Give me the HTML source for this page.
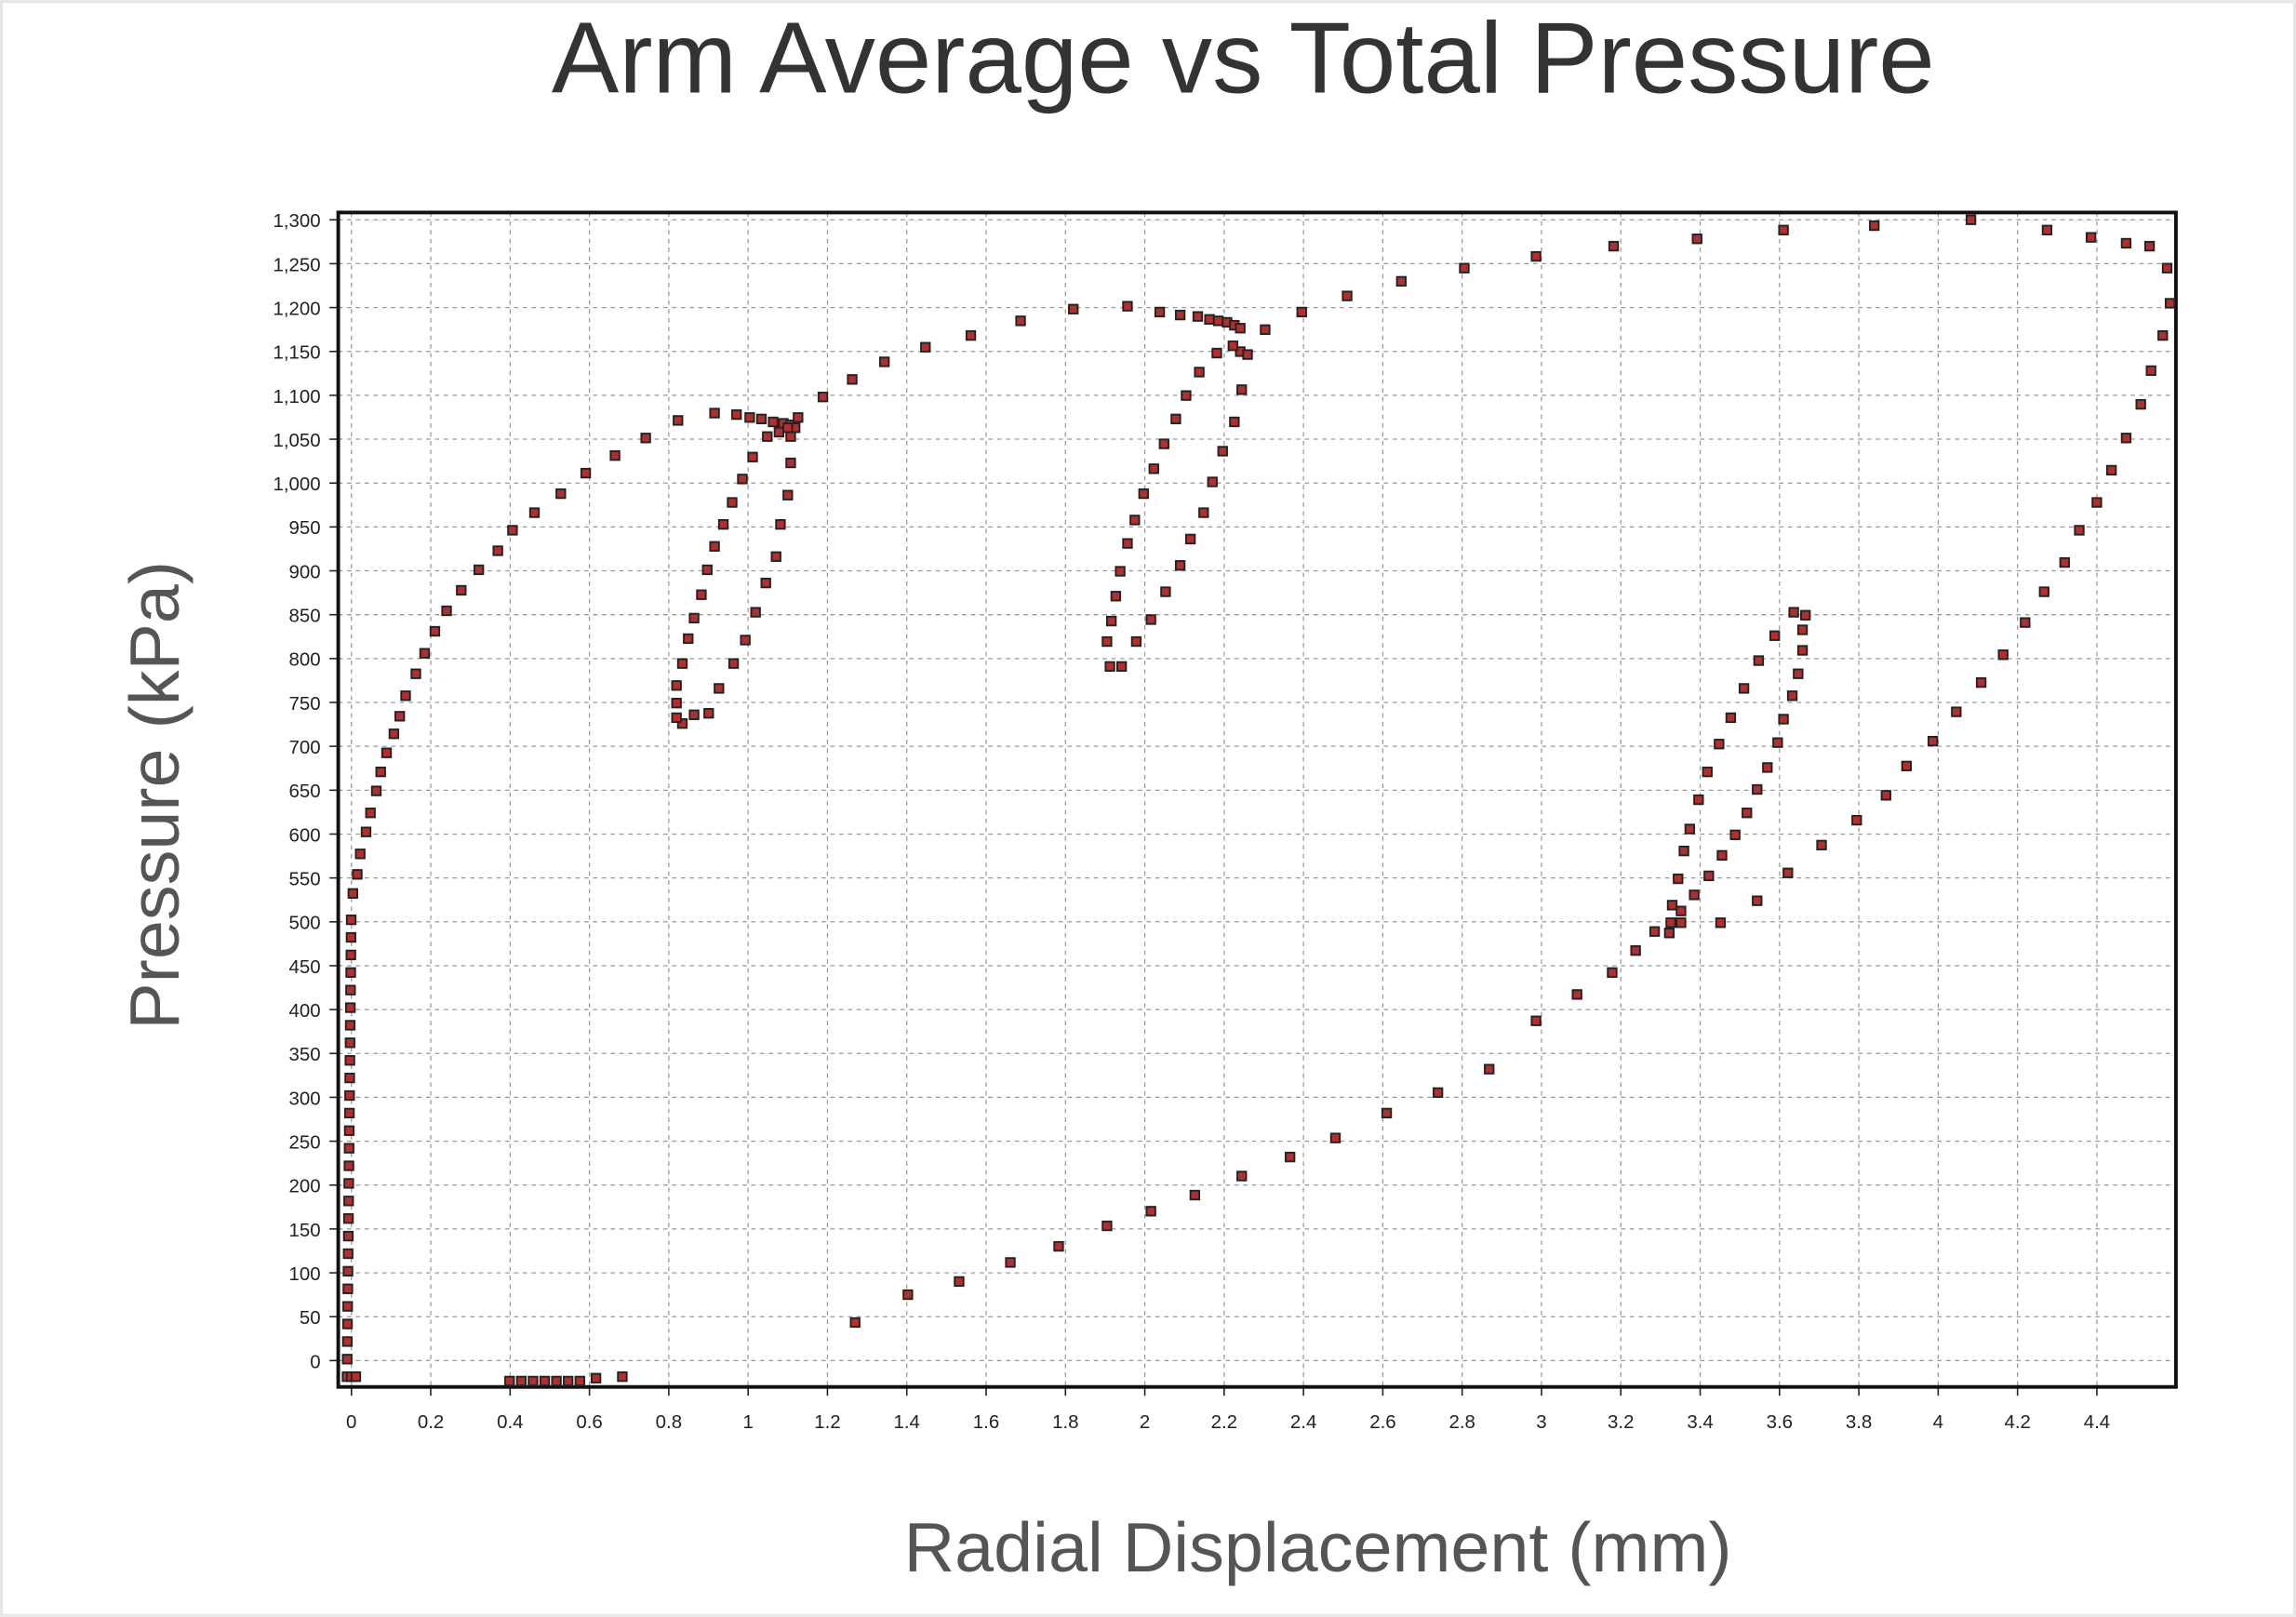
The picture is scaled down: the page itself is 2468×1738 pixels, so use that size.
<!DOCTYPE html>
<html><head><meta charset="utf-8"><style>
html,body{margin:0;padding:0;background:#fff}
svg{display:block}
</style></head><body>
<svg id="s" width="2468" height="1738" viewBox="0 0 1568 1104" xmlns="http://www.w3.org/2000/svg" font-family="Liberation Sans, sans-serif">
<rect x="0" y="0" width="1568" height="1104" fill="#fff"/>
<rect x="1" y="1" width="1566" height="1102" fill="none" stroke="#e6e6e6" stroke-width="2"/>
<text x="849" y="63" font-size="69" fill="#333" text-anchor="middle">Arm Average vs Total Pressure</text>
<text x="900" y="1073" font-size="48" fill="#555" text-anchor="middle">Radial Displacement (mm)</text>
<text transform="translate(122,543) rotate(-90)" font-size="48" fill="#555" text-anchor="middle">Pressure (kPa)</text>
<g id="grid"></g>
<rect x="231" y="145" width="1255" height="802" fill="none" stroke="#111" stroke-width="2.5"/>
<g id="ticks" font-size="13" fill="#222"></g>
<g id="pts" fill="#b03030" stroke="#222" stroke-width="1.2"></g>
</svg>
<script>
var ns="http://www.w3.org/2000/svg";
function el(p,t,a,txt){var e=document.createElementNS(ns,t);for(var k in a)e.setAttribute(k,a[k]);if(txt!=null)e.textContent=txt;document.getElementById(p).appendChild(e);}
var x0=240,dx=(1432-240)/22,y0=929,dy=(929-150)/26;
for(var i=0;i<=23;i++){var x=x0+i*dx;if(x>1484)break;
 el("grid","line",{x1:x,y1:145,x2:x,y2:947,stroke:"#999","stroke-width":0.8,"stroke-dasharray":"3,3"});
 el("grid","line",{x1:x,y1:947,x2:x,y2:953,stroke:"#222","stroke-width":1});
 var v=(i*0.2).toFixed(1).replace(/\.0$/,"");if(i==0)v="0";
 el("ticks","text",{x:x,y:975,"text-anchor":"middle"},v);}
for(var j=0;j<=26;j++){var y=y0-j*dy;
 el("grid","line",{x1:231,y1:y,x2:1486,y2:y,stroke:"#999","stroke-width":0.8,"stroke-dasharray":"3,3"});
 el("grid","line",{x1:225,y1:y,x2:231,y2:y,stroke:"#222","stroke-width":1});
 var n=j*50,s=n>=1000?Math.floor(n/1000)+","+String(n%1000).padStart(3,"0"):String(n);
 el("ticks","text",{x:219,y:y+5,"text-anchor":"end"},s);}
var P=[];
for(var y=940;y>=620;y-=12)P.push([237+(940-y)/110,y]);
P=P.concat([[241,610],[244,597],[246,583],[250,568],[253,555],[257,540],[260,527],[264,514],[269,501],[273,489],[277,475],[284,460],[290,446],[297,431],[305,417],[315,403],[327,389],[340,376],[350,362],[365,350],[383,337],[400,323],[420,311],[441,299],[463,287],[488,282],[503,283],[512,285],[520,286],[528,288],[535,289],[540,290],[543,292],
[540,298],[540,316],[538,338],[533,358],[530,380],[523,398],[516,418],[509,437],[501,453],[491,470],[484,487],[474,488],[466,494],[462,490],[462,480],[462,468],[466,453],[470,436],[474,422],[479,406],[483,389],[488,373],[494,358],[500,343],[507,327],[514,312],[524,298],[532,295],[538,292],[545,285],
[562,271],[582,259],[604,247],[632,237],[663,229],[697,219],[733,211],[770,209],[792,213],[806,215],[818,216],[826,218],[832,219],[838,220],[843,222],[847,224],
[847,240],[848,266],[843,288],[835,308],[828,329],[822,350],[813,368],[806,386],[796,404],[786,423],[776,438],[766,455],[758,455],[756,438],[759,424],[762,407],[765,390],[770,371],[775,355],[781,337],[788,320],[795,303],[803,286],[810,270],[819,254],[831,241],[842,236],[852,242],[864,225],[889,213],[920,202],[957,192],[1000,183],[1049,175],[1102,168],[1159,163],[1218,157],[1280,154],[1346,150],[1398,157],[1428,162],[1452,166],[1468,168],[1480,183],[1482,207],[1477,229],[1469,253],[1462,276],[1452,299],[1442,321],[1432,343],[1420,362],[1410,384],[1396,404],[1383,425],[1368,447],[1353,466],[1336,486],[1320,506],[1302,523],[1288,543],[1268,560],[1244,577],[1221,596],[1200,615],[1175,630],[1148,630],[1140,637],[1141,630],[1142,618],[1146,600],[1150,581],[1154,566],[1160,546],[1166,527],[1174,508],[1182,490],[1191,470],[1201,451],[1212,434],[1225,418],[1233,420],[1231,430],[1231,444],[1228,460],[1224,475],[1218,491],[1214,507],[1207,524],[1200,539],[1193,555],[1185,570],[1176,584],[1167,598],[1157,611],[1148,622],[1130,636],[1117,649],[1101,664],[1077,679],[1049,697],[1017,730],[982,746],[947,760],[912,777],[881,790],[848,803],[816,816],[786,827],[756,837],[723,851],[690,862],[655,875],[620,884],[584,903],
[348,943],[356,943],[364,943],[372,943],[380,943],[388,943],[396,943],[407,941],[425,940],[240,940],[243,940]]);
P.forEach(function(p){el("pts","rect",{x:p[0]-3,y:p[1]-3,width:6,height:6});});
</script>
</body></html>
